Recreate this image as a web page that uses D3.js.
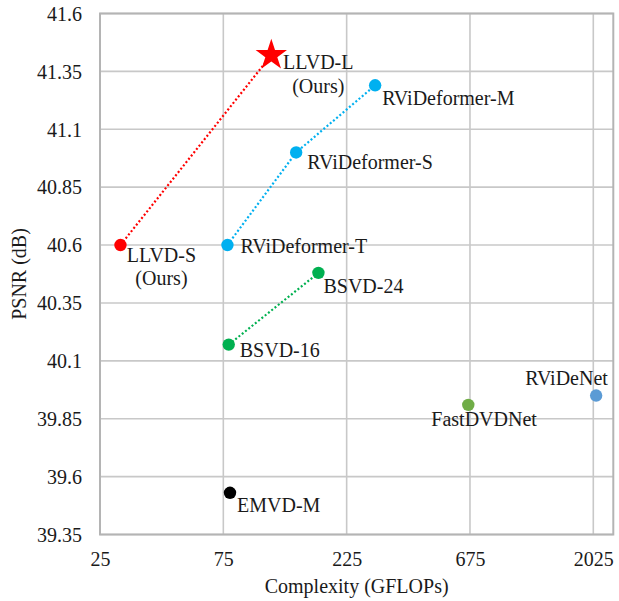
<!DOCTYPE html>
<html>
<head>
<meta charset="utf-8">
<script src="https://cdn.jsdelivr.net/npm/d3@7"></script>
<style>
  html, body { margin: 0; padding: 0; background: #fff; }
  svg text { font-family: "Liberation Serif", "Times New Roman", serif; fill: #1a1a1a; }
</style>
</head>
<body>
<svg id="chart" width="619" height="601"></svg>
<script>
// ---- data ----
const names  = ["LLVD-S", "LLVD-L", "RViDeformer-T", "RViDeformer-S", "RViDeformer-M", "BSVD-16", "BSVD-24", "EMVD-M", "FastDVDNet", "RViDeNet"];
const gflops = [30, 115, 77.8, 143.5, 290, 78.7, 175, 79.6, 665, 2077];
const psnr   = [40.60, 41.42, 40.60, 41.00, 41.29, 40.17, 40.48, 39.53, 39.91, 39.95];
const xTicks = [25, 75, 225, 675, 2025];
const yTicks = [39.35, 39.6, 39.85, 40.1, 40.35, 40.6, 40.85, 41.1, 41.35, 41.6];
const groups = [["LLVD-S", "LLVD-L"], ["RViDeformer-T", "RViDeformer-S", "RViDeformer-M"], ["BSVD-16", "BSVD-24"]];

// ---- styling / layout (not data) ----
const colors = {
  "LLVD-S": "#ff0000", "LLVD-L": "#ff0000",
  "RViDeformer-T": "#00b0f0", "RViDeformer-S": "#00b0f0", "RViDeformer-M": "#00b0f0",
  "BSVD-16": "#00b050", "BSVD-24": "#00b050",
  "EMVD-M": "#000000", "FastDVDNet": "#70ad47", "RViDeNet": "#5b9bd5"
};
const labelLayout = {
  "LLVD-S":        { dx: 41,  dy: [17, 40], anchor: "middle", lines: ["LLVD-S", "(Ours)"] },
  "LLVD-L":        { dx: 47,  dy: [14, 38], anchor: "middle", lines: ["LLVD-L", "(Ours)"] },
  "RViDeformer-T": { dx: 13,  dy: [8],  anchor: "start" },
  "RViDeformer-S": { dx: 11,  dy: [17], anchor: "start" },
  "RViDeformer-M": { dx: 7,   dy: [20], anchor: "start" },
  "BSVD-16":       { dx: 11,  dy: [12], anchor: "start" },
  "BSVD-24":       { dx: 5,   dy: [20], anchor: "start" },
  "EMVD-M":        { dx: 7,   dy: [19], anchor: "start" },
  "FastDVDNet":    { dx: -37, dy: [21], anchor: "start" },
  "RViDeNet":      { dx: -71, dy: [-11], anchor: "start" }
};

const svg = d3.select("#chart");
const plot = { left: 100, right: 613.3, top: 13.5, bottom: 534.5 };

const x = d3.scaleLog().base(3).domain([25, 2420]).range([plot.left, plot.right]);
const y = d3.scaleLinear().domain([39.35, 41.6]).range([plot.bottom, plot.top]);

const points = names.map((n, i) => ({ name: n, gx: gflops[i], py: psnr[i] }));
const byName = Object.fromEntries(points.map(p => [p.name, p]));

// gridlines
const grid = svg.append("g");
grid.selectAll("line.v").data(xTicks).join("line")
  .attr("x1", d => x(d)).attr("x2", d => x(d))
  .attr("y1", plot.top).attr("y2", plot.bottom)
  .attr("stroke", "#c8c8c8").attr("stroke-width", 1.6);
grid.selectAll("line.h").data(yTicks).join("line")
  .attr("y1", d => y(d)).attr("y2", d => y(d))
  .attr("x1", plot.left).attr("x2", plot.right)
  .attr("stroke", "#c8c8c8").attr("stroke-width", 1.6);

// border
svg.append("rect")
  .attr("x", plot.left).attr("y", plot.top)
  .attr("width", plot.right - plot.left).attr("height", plot.bottom - plot.top)
  .attr("fill", "none").attr("stroke", "#b4b4b4").attr("stroke-width", 2);

// axes (tick labels only)
const xAxis = d3.axisBottom(x).tickValues(xTicks).tickFormat(d3.format("d")).tickSize(0).tickPadding(0);
const gx = svg.append("g").attr("transform", `translate(0,${plot.bottom})`).call(xAxis);
gx.select(".domain").remove();
gx.selectAll("text").attr("font-size", 20).attr("dy", null).attr("y", 31)
  .style("font-family", '"Liberation Serif", serif').attr("fill", "#1a1a1a");

const yAxis = d3.axisLeft(y).tickValues(yTicks).tickFormat(d => String(+d.toFixed(2))).tickSize(0).tickPadding(0);
const gy = svg.append("g").attr("transform", `translate(${plot.left},0)`).call(yAxis);
gy.select(".domain").remove();
gy.selectAll("text").attr("font-size", 20).attr("x", -18).attr("dy", "0.34em")
  .style("font-family", '"Liberation Serif", serif').attr("fill", "#1a1a1a");

// axis titles
svg.append("text").attr("x", (plot.left + plot.right) / 2).attr("y", 593)
  .attr("text-anchor", "middle").attr("font-size", 20).text("Complexity (GFLOPs)");
svg.append("text").attr("transform", `translate(26,${(plot.top + plot.bottom) / 2}) rotate(-90)`)
  .attr("text-anchor", "middle").attr("font-size", 20).text("PSNR (dB)");

// dotted connecting lines
const line = d3.line().x(d => x(d.gx)).y(d => y(d.py));
groups.forEach(g => {
  const pts = g.map(n => byName[n]);
  svg.append("path").datum(pts).attr("d", line)
    .attr("fill", "none").attr("stroke", colors[g[0]])
    .attr("stroke-width", 2.2).attr("stroke-dasharray", "2,2.2");
});

// markers
const starR = 16.5;
svg.selectAll("path.star").data(points.filter(p => p.name === "LLVD-L")).join("path")
  .attr("class", "star")
  .attr("d", d3.symbol().type(d3.symbolStar).size(starR * starR / 0.8908130915292852))
  .attr("transform", d => `translate(${x(d.gx)},${y(d.py)})`)
  .attr("fill", d => colors[d.name]);
svg.selectAll("circle.pt").data(points.filter(p => p.name !== "LLVD-L")).join("circle")
  .attr("class", "pt")
  .attr("cx", d => x(d.gx)).attr("cy", d => y(d.py)).attr("r", 6.2)
  .attr("fill", d => colors[d.name]);

// labels
points.forEach(p => {
  const L = labelLayout[p.name];
  const lines = L.lines || [p.name];
  lines.forEach((t, i) => {
    svg.append("text")
      .attr("x", x(p.gx) + L.dx).attr("y", y(p.py) + L.dy[i])
      .attr("text-anchor", L.anchor).attr("font-size", 20).text(t);
  });
});
</script>
</body>
</html>
